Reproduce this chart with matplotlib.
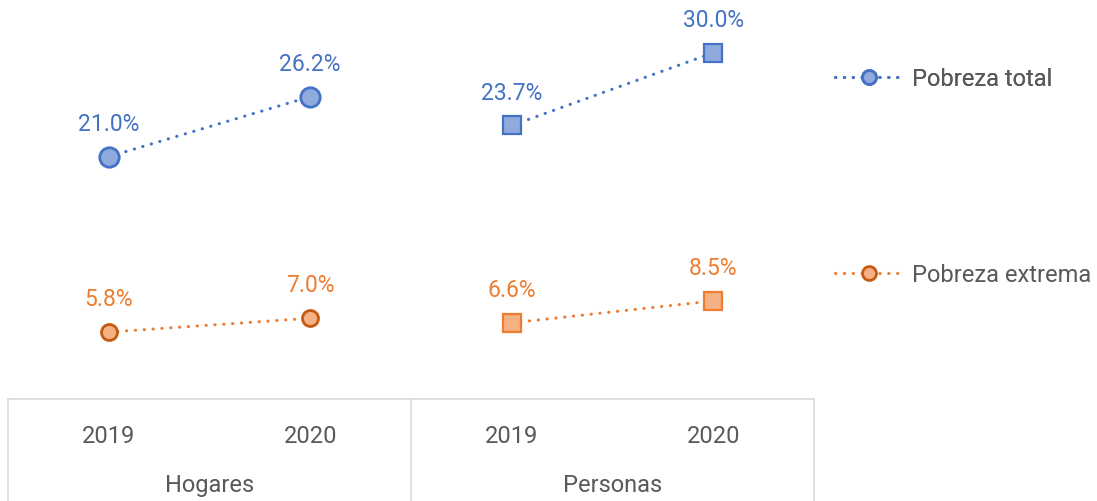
import matplotlib
matplotlib.use('Agg')
import matplotlib.pyplot as plt
import matplotlib.transforms as mtransforms
from matplotlib.lines import Line2D

# data
groups = ['Hogares', 'Personas']
years = ['2019', '2020']
total_hogares = [21.0, 26.2]
total_personas = [23.7, 30.0]
extrema_hogares = [5.8, 7.0]
extrema_personas = [6.6, 8.5]

plt.rcParams['font.family'] = ['Roboto', 'DejaVu Sans']

BLUE = '#4472C4'
BLUE_F = '#8FAADC'
ORANGE = '#ED7D31'
ORANGE_E = '#C55A11'
ORANGE_F = '#F4B183'
GRAY_T = '#595959'
GRAY_L = '#D9D9D9'
DOTS = (0, (0.1, 2.8))

fig = plt.figure(figsize=(10.97, 5.02), dpi=100)
ax = fig.add_axes([8 / 1097, 102 / 502, 806 / 1097, 400 / 502])
ax.set_xlim(-0.5, 3.5)
ax.set_ylim(0, 34.66)
for s in ['left', 'right', 'top']:
    ax.spines[s].set_visible(False)
ax.spines['bottom'].set_color(GRAY_L)
ax.spines['bottom'].set_linewidth(1.2)
ax.set_yticks([])

xh = [0, 1]
xp = [2, 3]


def series(x, y, color, edge, face, marker, ms, mew):
    ax.plot(x, y, linestyle=DOTS, color=color, lw=2.2, dash_capstyle='round',
            marker=marker, markersize=ms, markeredgewidth=mew,
            markeredgecolor=edge, markerfacecolor=face, clip_on=False, zorder=3)
    for xi, yi in zip(x, y):
        ax.annotate('{:.1f}%'.format(yi), (xi, yi), xytext=(0, 24),
                    textcoords='offset points', ha='center', va='center',
                    fontsize=16.5, color=color)


series(xh, total_hogares, BLUE, BLUE, BLUE_F, 'o', 14, 2.0)
series(xp, total_personas, BLUE, BLUE, BLUE_F, 's', 12.5, 1.6)
series(xh, extrema_hogares, ORANGE, ORANGE_E, ORANGE_F, 'o', 11.5, 2.0)
series(xp, extrema_personas, ORANGE, ORANGE, ORANGE_F, 's', 12.5, 1.6)

# category axis (two levels)
ax.set_xticks(xh + xp)
ax.set_xticklabels(years * 2, fontsize=17, color=GRAY_T)
ax.tick_params(axis='x', length=0, pad=18)

tr = mtransforms.blended_transform_factory(ax.transData, ax.transAxes)
for i, g in enumerate(groups):
    ax.text(2 * i + 0.5, -86 / 400, g, transform=tr, ha='center', va='center',
            fontsize=17, color=GRAY_T)
for xv in [-0.5, 1.5, 3.5]:
    ax.plot([xv, xv], [0, -0.26], transform=tr, color=GRAY_L, lw=1.2, clip_on=False)

# legend
h1 = Line2D([], [], linestyle=DOTS, color=BLUE, lw=2.2, dash_capstyle='round',
            marker='o', markersize=10, markeredgewidth=2, markeredgecolor=BLUE,
            markerfacecolor=BLUE_F)
h2 = Line2D([], [], linestyle=DOTS, color=ORANGE, lw=2.2, dash_capstyle='round',
            marker='o', markersize=10, markeredgewidth=2, markeredgecolor=ORANGE_E,
            markerfacecolor=ORANGE_F)
leg1 = fig.legend([h1], ['Pobreza total'], loc='center left',
                  bbox_to_anchor=(814 / 1097, 1 - 80 / 502), frameon=False,
                  fontsize=17, handlelength=2.9, handletextpad=0.35, labelcolor=GRAY_T)
leg2 = fig.legend([h2], ['Pobreza extrema'], loc='center left',
                  bbox_to_anchor=(814 / 1097, 1 - 276 / 502), frameon=False,
                  fontsize=17, handlelength=2.9, handletextpad=0.35, labelcolor=GRAY_T)
fig.add_artist(leg1)

fig.savefig('out.png', dpi=100, facecolor='white')
